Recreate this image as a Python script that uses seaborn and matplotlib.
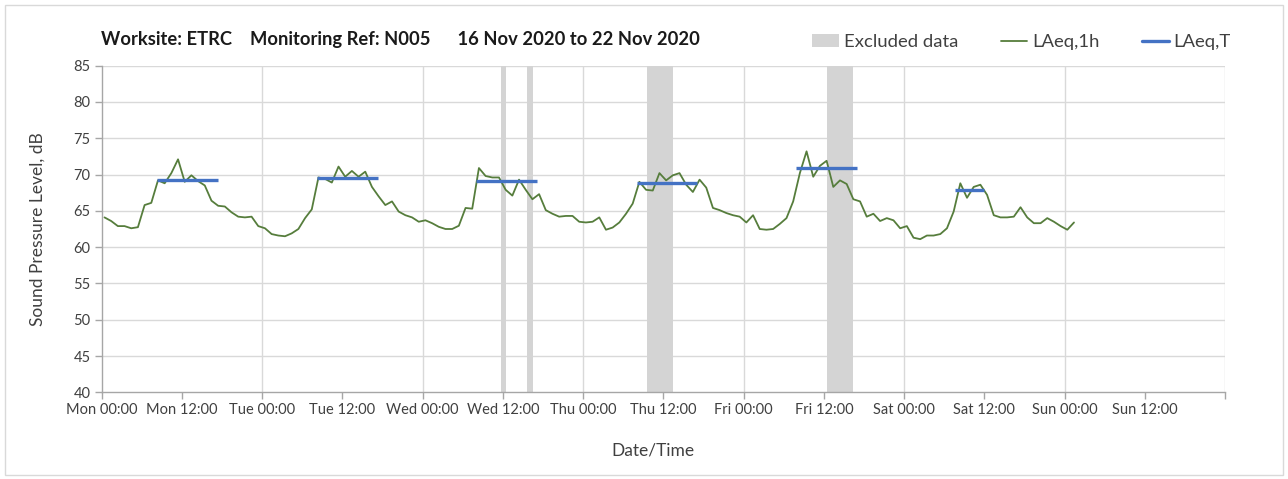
import numpy as np
import pandas as pd
import matplotlib
matplotlib.use("Agg")
import matplotlib.pyplot as plt
import matplotlib.dates as mdates
from matplotlib.patches import Rectangle, Patch
from matplotlib.lines import Line2D
import seaborn as sns

# ---------------- data ----------------
start_time = "2020-11-16 00:25"
laeq_1h = [
    # Mon
    64.1, 63.6, 62.9, 62.9, 62.6, 62.75, 65.8, 66.1, 69.2, 68.8, 70.2, 72.1,
    69.0, 69.9, 69.1, 68.5, 66.4, 65.7, 65.6, 64.8, 64.2, 64.1, 64.2, 62.9,
    # Tue
    62.6, 61.8, 61.6, 61.5, 61.9, 62.5, 64.0, 65.2, 69.6, 69.4, 68.9, 71.1,
    69.7, 70.5, 69.7, 70.4, 68.3, 67.0, 65.8, 66.3, 64.9, 64.4, 64.1, 63.5,
    # Wed
    63.7, 63.3, 62.8, 62.5, 62.5, 62.95, 65.4, 65.3, 70.9, 69.8, 69.6, 69.6,
    67.9, 67.1, 69.3, 67.9, 66.6, 67.3, 65.1, 64.6, 64.2, 64.3, 64.3, 63.5,
    # Thu
    63.4, 63.5, 64.1, 62.4, 62.7, 63.4, 64.6, 66.0, 69.0, 67.9, 67.8, 70.2,
    69.2, 69.9, 70.2, 68.6, 67.6, 69.3, 68.2, 65.4, 65.1, 64.7, 64.4, 64.2,
    # Fri
    63.4, 64.4, 62.5, 62.4, 62.5, 63.2, 64.0, 66.3, 70.2, 73.2, 69.7, 71.2,
    71.9, 68.3, 69.2, 68.7, 66.6, 66.3, 64.2, 64.6, 63.6, 64.0, 63.7, 62.6,
    # Sat
    62.9, 61.3, 61.1, 61.6, 61.6, 61.8, 62.6, 64.9, 68.8, 66.8, 68.3, 68.6,
    67.2, 64.4, 64.1, 64.1, 64.2, 65.5, 64.1, 63.3, 63.3, 64.0, 63.5, 62.9,
    # Sun
    62.4, 63.4,
]

laeq_t_start = ["2020-11-16 08:15", "2020-11-17 08:10", "2020-11-18 08:00",
                "2020-11-19 08:00", "2020-11-20 07:50", "2020-11-21 07:35"]
laeq_t_end = ["2020-11-16 17:25", "2020-11-17 17:20", "2020-11-18 17:10",
              "2020-11-19 17:05", "2020-11-20 17:00", "2020-11-21 11:55"]
laeq_t_value = [69.2, 69.5, 69.1, 68.9, 70.9, 67.9]

excluded_start = ["2020-11-18 11:40", "2020-11-18 15:35", "2020-11-19 09:30", "2020-11-20 12:25"]
excluded_end = ["2020-11-18 12:30", "2020-11-18 16:30", "2020-11-19 13:25", "2020-11-20 16:20"]

title_text = "Worksite: ETRC    Monitoring Ref: N005      16 Nov 2020 to 22 Nov 2020"

# ---------------- figure ----------------
sns.set_theme(style="white")
plt.rcParams["font.family"] = ["Lato", "DejaVu Sans"]

W, H = 1288, 479
fig = plt.figure(figsize=(W / 100, H / 100), dpi=100)
ax = fig.add_axes([101.7 / W, 1 - 392.3 / H, (1225 - 101.7) / W, 326.6 / H])

times = pd.date_range(start_time, periods=len(laeq_1h), freq="h")
df = pd.DataFrame({"time": times, "LAeq,1h": laeq_1h})

grey = "#d4d4d4"
green = "#567d3c"
blue = "#4472c4"

for s, e in zip(excluded_start, excluded_end):
    ax.axvspan(pd.Timestamp(s), pd.Timestamp(e), color=grey, lw=0, zorder=1)

sns.lineplot(data=df, x="time", y="LAeq,1h", ax=ax, color=green, lw=1.3, zorder=3)

ax.hlines(laeq_t_value, [pd.Timestamp(s) for s in laeq_t_start],
          [pd.Timestamp(e) for e in laeq_t_end], color=blue, lw=2.4, zorder=4)

x0 = pd.Timestamp("2020-11-16 00:00")
x1 = pd.Timestamp("2020-11-23 00:00")
ax.set_xlim(x0, x1)
ax.set_ylim(40, 85)
ax.set_yticks(np.arange(40, 86, 5))

ax.xaxis.set_major_locator(mdates.HourLocator(byhour=[0, 12]))

def fmt(x, pos):
    if abs(x - mdates.date2num(x1)) < 1e-6:
        return ""
    return mdates.num2date(x).strftime("%a %H:%M")
ax.xaxis.set_major_formatter(plt.FuncFormatter(fmt))

# gridlines
for yv in np.arange(45, 86, 5):
    ax.axhline(yv, color="#d9d9d9", lw=1.0, zorder=0)
for d in pd.date_range("2020-11-17", "2020-11-23", freq="D"):
    ax.axvline(d, color="#d9d9d9", lw=1.0, zorder=0)

for sp in ["top", "right"]:
    ax.spines[sp].set_visible(False)
for sp in ["left", "bottom"]:
    ax.spines[sp].set_color("#a6a6a6")
    ax.spines[sp].set_linewidth(1.0)

ax.tick_params(axis="both", which="major", direction="out", length=5,
               width=1.0, color="#a6a6a6", labelsize=10.5, labelcolor="#404040",
               bottom=True, left=True, pad=3)

ax.set_xlabel("")
ax.set_ylabel("")
fig.text(38 / W, 1 - 229 / H, "Sound Pressure Level, dB", rotation=90,
         ha="center", va="center", fontsize=12.5, color="#404040")
fig.text(653 / W, 1 - 451 / H, "Date/Time", ha="center", va="center",
         fontsize=12.5, color="#404040")

fig.text(101 / W, 1 - 40 / H, title_text, ha="left", va="center",
         fontsize=13.2, fontweight="bold", color="#1a1a1a")

handles = [Patch(facecolor=grey, edgecolor="none"),
           Line2D([], [], color=green, lw=1.3),
           Line2D([], [], color=blue, lw=2.4)]
fig.legend(handles, ["Excluded data", "LAeq,1h", "LAeq,T"], ncol=3,
           loc="center right", bbox_to_anchor=(1238 / W, 1 - 42 / H),
           frameon=False, fontsize=13.3, handlelength=1.45, handletextpad=0.25,
           columnspacing=2.3, labelcolor="#404040", borderaxespad=0)

fig.patches.append(Rectangle((5 / W, 4 / H), 1278 / W, 470 / H,
                             transform=fig.transFigure, fill=False,
                             edgecolor="#d9d9d9", lw=1.0))

fig.savefig("out.png", dpi=100)
